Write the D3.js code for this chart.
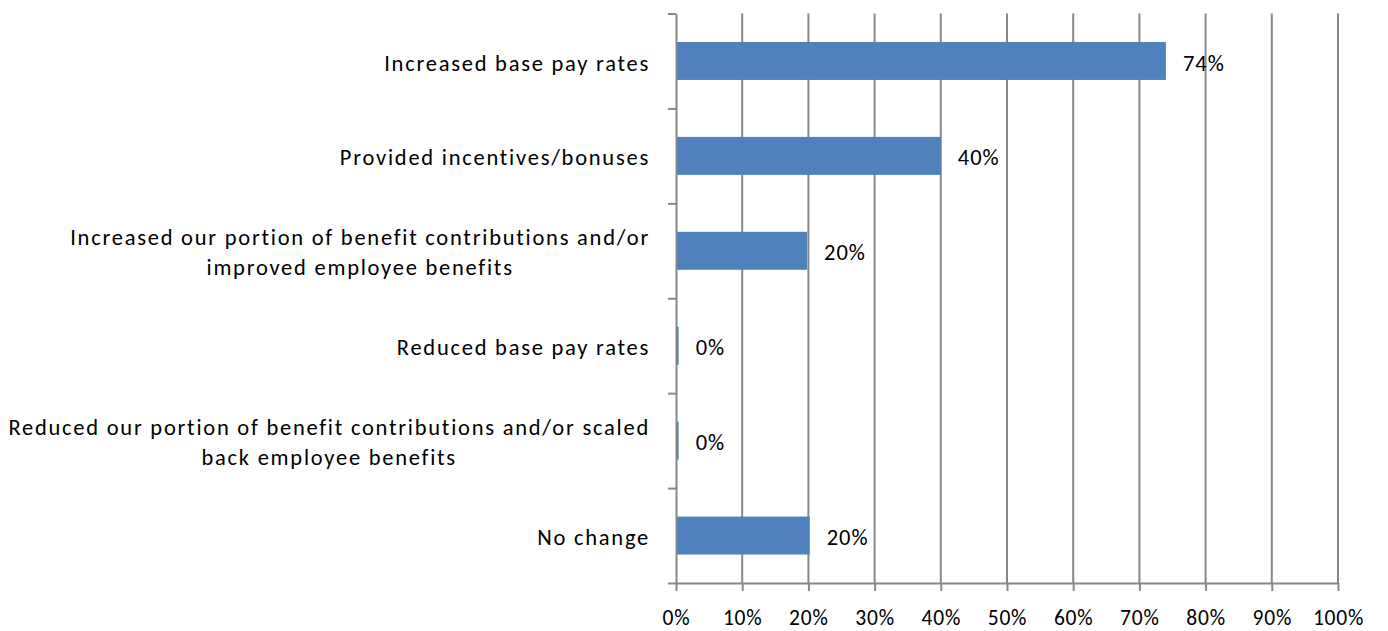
<!DOCTYPE html>
<html>
<head>
<meta charset="utf-8">
<script src="https://cdn.jsdelivr.net/npm/d3@7/dist/d3.min.js"></script>
<style>
  html, body { margin: 0; padding: 0; background: #fff; }
  svg { display: block; }
  text { font-family: Carlito, Calibri, Lato, sans-serif; fill: #000; }
</style>
</head>
<body>
<svg id="chart" width="1388" height="631"></svg>
<script>
const categories = [
  "Increased base pay rates",
  "Provided incentives/bonuses",
  "Increased our portion of benefit contributions and/or improved employee benefits",
  "Reduced base pay rates",
  "Reduced our portion of benefit contributions and/or scaled back employee benefits",
  "No change"
];
const categoryLines = [
  ["Increased base pay rates"],
  ["Provided incentives/bonuses"],
  ["Increased our portion of benefit contributions and/or", "improved employee benefits"],
  ["Reduced base pay rates"],
  ["Reduced our portion of benefit contributions and/or scaled", "back employee benefits"],
  ["No change"]
];
const values = [74, 40, 19.8, 0.4, 0.4, 20.2];
const valueLabels = ["74%", "40%", "20%", "0%", "0%", "20%"];
const xTicks = [0, 10, 20, 30, 40, 50, 60, 70, 80, 90, 100];

const svg = d3.select("#chart");
const plotLeft = 676, plotRight = 1338, plotTop = 13.5, plotBottom = 583;
const gridColor = "#888888";
const fontSize = 22.5;

const x = d3.scaleLinear().domain([0, 100]).range([plotLeft, plotRight]);
const y = d3.scaleBand().domain(categories).range([plotTop, plotBottom]).padding(0);
const yIdx = d3.scaleLinear().domain([0, categories.length]).range([plotTop, plotBottom]);

// gridlines
svg.append("g").selectAll("line").data(xTicks.filter(d => d > 0)).join("line")
  .attr("x1", d => x(d)).attr("x2", d => x(d))
  .attr("y1", plotTop).attr("y2", plotBottom)
  .attr("stroke", gridColor).attr("stroke-width", 2);

// bars
const bw = y.bandwidth();
svg.append("g").selectAll("rect").data(categories).join("rect")
  .attr("x", x(0))
  .attr("y", d => y(d) + bw * 0.3)
  .attr("width", (d, i) => x(values[i]) - x(0))
  .attr("height", bw * 0.4)
  .attr("fill", "#4F81BD");

// x axis
const xAxis = svg.append("g").attr("transform", `translate(0,${plotBottom})`)
  .call(d3.axisBottom(x).tickValues(xTicks).tickSize(8).tickSizeOuter(0).tickFormat(d => d + "%"));
xAxis.select(".domain").attr("stroke", gridColor).attr("stroke-width", 2);
xAxis.selectAll(".tick line").attr("stroke", gridColor).attr("stroke-width", 2);
xAxis.selectAll(".tick text")
  .attr("y", 42).attr("dy", null)
  .attr("font-size", 21.5).attr("fill", "#000")
  .attr("letter-spacing", 0.8)
  .attr("font-family", "Carlito, Calibri, Lato, sans-serif");

// y axis
const yAxis = svg.append("g").attr("transform", `translate(${plotLeft},0)`)
  .call(d3.axisLeft(yIdx).ticks(categories.length).tickSize(8).tickSizeOuter(0).tickFormat(""));
yAxis.select(".domain").attr("stroke", gridColor).attr("stroke-width", 2);
yAxis.selectAll(".tick line").attr("stroke", gridColor).attr("stroke-width", 2);

// category labels
const labelRight = 650;
const lineGap = 30;
const capShift = fontSize * 0.36 + 1.5;
const catG = svg.append("g");
categories.forEach((c, i) => {
  const lines = categoryLines[i];
  const cy = y(c) + bw / 2;
  const t = catG.append("text").attr("font-size", fontSize).attr("letter-spacing", 1.75);
  lines.forEach((ln, j) => {
    t.append("tspan").text(ln)
      .attr("y", cy + (j - (lines.length - 1) / 2) * lineGap + capShift);
  });
  const tsp = t.selectAll("tspan").nodes();
  const widths = tsp.map(n => n.getComputedTextLength());
  const maxW = d3.max(widths);
  const cx = labelRight - maxW / 2;
  t.attr("text-anchor", "middle");
  tsp.forEach(n => d3.select(n).attr("x", cx));
});

// value labels
svg.append("g").selectAll("text").data(categories).join("text")
  .attr("x", (d, i) => x(values[i]) + 17)
  .attr("y", d => y(d) + bw / 2 + capShift)
  .attr("font-size", fontSize)
  .attr("letter-spacing", 1)
  .text((d, i) => valueLabels[i]);
</script>
</body>
</html>
